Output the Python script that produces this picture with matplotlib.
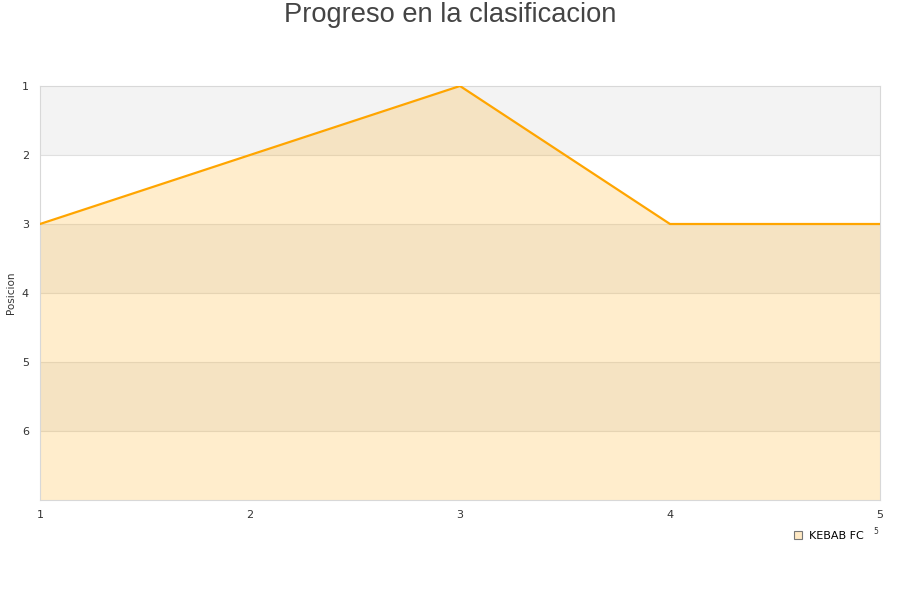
import matplotlib.pyplot as plt
from matplotlib.lines import Line2D

plt.rcParams['font.family'] = ['DejaVu Sans']

jornadas = [1, 2, 3, 4, 5]
posicion = [3, 2, 1, 3, 3]
equipo = "KEBAB FC"
yticks = [1, 2, 3, 4, 5, 6]

fig = plt.figure(figsize=(9, 6), dpi=100)
ax = fig.add_axes([40/900, 1-500/600, 840/900, 414/600])

# alternating bands
for k in range(1, 7, 2):
    ax.axhspan(k, k+1, color='#f3f3f3', zorder=0, lw=0)
for k in range(2, 7):
    ax.axhline(k, color='#e0e0e0', lw=0.8, zorder=1)

ax.fill_between(jornadas, posicion, 7, color='orange', alpha=0.2, lw=0, zorder=2)
ax.plot(jornadas, posicion, color='orange', lw=1.6, zorder=3)

ax.set_xlim(1, 5)
ax.set_ylim(7, 1)
ax.set_xticks(jornadas)
ax.set_yticks(yticks)
ax.tick_params(length=0, labelsize=8, colors='#333333')
ax.tick_params(axis='x', pad=7.5)
ax.tick_params(axis='y', pad=8)
for s in ax.spines.values():
    s.set_color('#d8d8d8')
    s.set_linewidth(0.8)
ax.set_ylabel('Posicion', fontsize=7.5, color='#333333')
ax.yaxis.set_label_coords(-24/840, 0.5)

fig.text(0.5, 1-15/600, 'Progreso en la clasificacion', ha='center', va='center',
         fontsize=19.6, color='#444444', family=['Liberation Sans', 'DejaVu Sans'])

h = Line2D([], [], marker='s', ls='', markersize=6, markerfacecolor='#ffe9c4',
           markeredgecolor='#777777', markeredgewidth=0.8)
fig.legend([h], [equipo], loc='center left', bbox_to_anchor=(781/900, 1-536/600),
           frameon=False, fontsize=8, handletextpad=0.4, handlelength=1.2)
fig.text(876/900, 1-532/600, '5', fontsize=5.5, color='#333333', ha='center', va='center')

fig.savefig('out.png', dpi=100)
